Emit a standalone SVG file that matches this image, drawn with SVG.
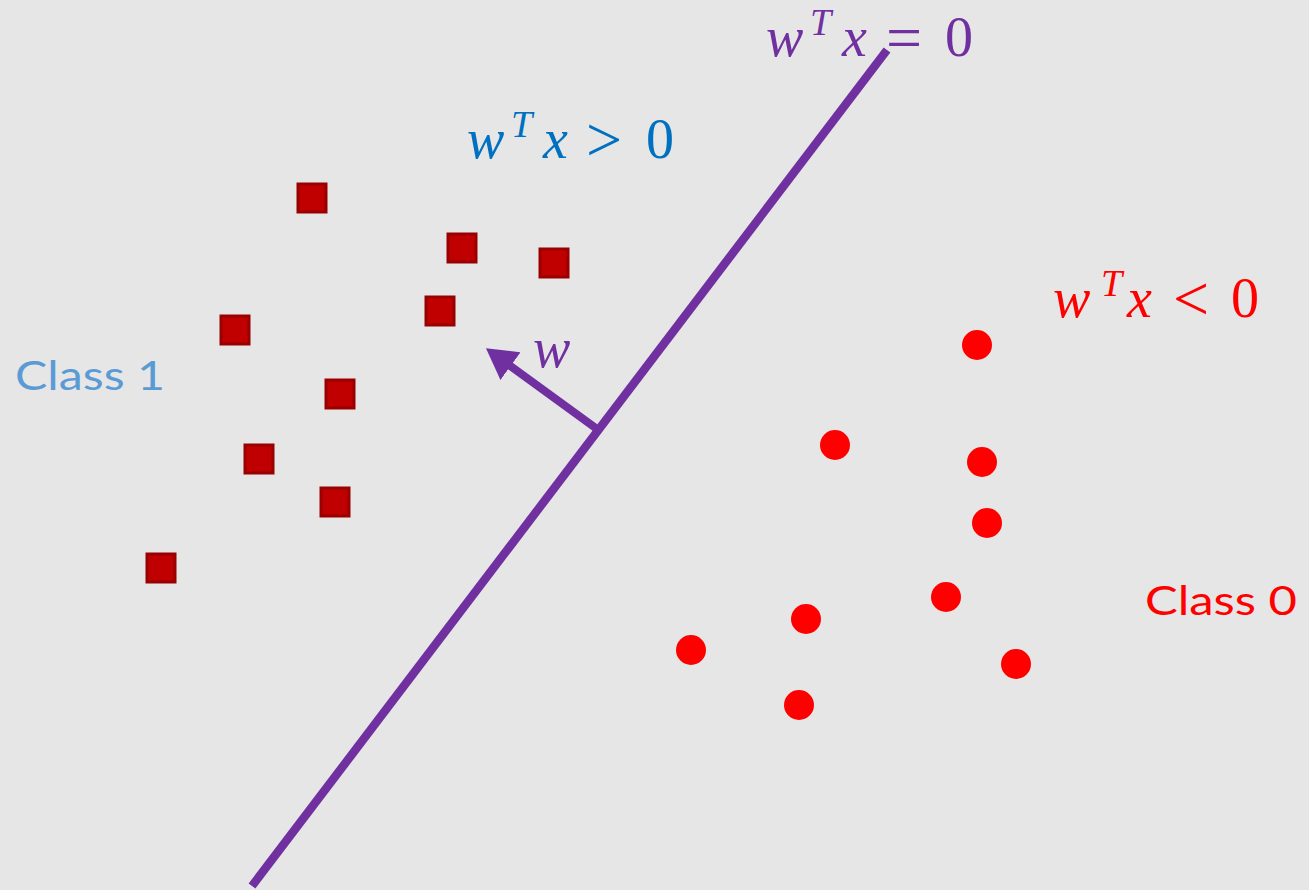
<svg xmlns="http://www.w3.org/2000/svg" width="1309" height="890" viewBox="0 0 1309 890">
<style>
.sq{fill:#C00000;stroke:#990000;stroke-width:3}
.pt{fill:#FF0000}
.m{font-family:"Liberation Serif",serif;font-size:56px}
.i{font-style:italic}
.sup{font-size:38px;font-style:italic}
.rel{font-size:64px}
.lbl{font-family:Lato,"Liberation Sans",sans-serif;font-size:40px}
</style>
<defs>
<marker id="ah" viewBox="0 0 8 9" refX="0.5" refY="4.5" markerWidth="3.8" markerHeight="4.3" orient="auto" markerUnits="strokeWidth">
<path d="M0,0 L8,4.5 L0,9 Z" fill="#7030A0"/>
</marker>
</defs>
<rect width="1309" height="890" fill="#E6E6E6"/>
<g id="connectors">
<line id="boundary" x1="252" y1="886" x2="887" y2="50" stroke="#7030A0" stroke-width="8.5"/>
<line id="w-arrow" x1="597" y1="429" x2="509" y2="365" stroke="#7030A0" stroke-width="8" marker-end="url(#ah)"/>
</g>
<g id="class1-points">
<rect class="sq" x="298" y="184" width="28" height="28"/>
<rect class="sq" x="448" y="234" width="28" height="28"/>
<rect class="sq" x="540" y="249" width="28" height="28"/>
<rect class="sq" x="426" y="297" width="28" height="28"/>
<rect class="sq" x="221" y="316" width="28" height="28"/>
<rect class="sq" x="326" y="380" width="28" height="28"/>
<rect class="sq" x="245" y="445" width="28" height="28"/>
<rect class="sq" x="321" y="488" width="28" height="28"/>
<rect class="sq" x="147" y="554" width="28" height="28"/>
</g>
<g id="class0-points">
<circle class="pt" cx="977" cy="345" r="15"/>
<circle class="pt" cx="835" cy="445" r="15"/>
<circle class="pt" cx="982" cy="462" r="15"/>
<circle class="pt" cx="987" cy="523" r="15"/>
<circle class="pt" cx="946" cy="597" r="15"/>
<circle class="pt" cx="806" cy="619" r="15"/>
<circle class="pt" cx="691" cy="650" r="15"/>
<circle class="pt" cx="1016" cy="664" r="15"/>
<circle class="pt" cx="799" cy="705" r="15"/>
</g>
<g id="label-eq" fill="#7030A0">
<text class="m" y="56"><tspan class="i" x="766">w</tspan><tspan class="sup" x="810" y="35">T</tspan><tspan class="i" x="842" y="56">x</tspan><tspan class="rel" x="886" y="59">=</tspan><tspan x="945" y="56">0</tspan></text>
</g>
<g id="label-gt" fill="#0070C0">
<text class="m" y="158"><tspan class="i" x="467">w</tspan><tspan class="sup" x="511" y="137">T</tspan><tspan class="i" x="543" y="158">x</tspan><tspan class="rel" x="586" y="161">&gt;</tspan><tspan x="646" y="158">0</tspan></text>
</g>
<g id="label-lt" fill="#FF0000">
<text class="m" y="317"><tspan class="i" x="1053">w</tspan><tspan class="sup" x="1101" y="296">T</tspan><tspan class="i" x="1127" y="317">x</tspan><tspan class="rel" x="1173" y="320">&lt;</tspan><tspan x="1231" y="317">0</tspan></text>
</g>
<g id="label-w" fill="#7030A0">
<text class="m i" x="533" y="367">w</text>
</g>
<g id="label-class1">
<text class="lbl" x="15" y="390" fill="#5B9BD5" textLength="150" lengthAdjust="spacingAndGlyphs">Class 1</text>
</g>
<g id="label-class0">
<text class="lbl" x="1145" y="615" fill="#FF0000" textLength="152" lengthAdjust="spacingAndGlyphs">Class 0</text>
</g>
</svg>
